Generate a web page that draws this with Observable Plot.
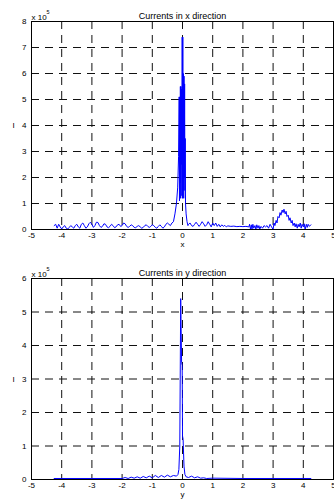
<!DOCTYPE html>
<html><head><meta charset="utf-8">
<script src="https://cdn.jsdelivr.net/npm/d3@7"></script>
<script src="https://cdn.jsdelivr.net/npm/@observablehq/plot@0.6"></script>
<style>body{margin:0;background:#fff;font-family:"Liberation Sans",Arial,sans-serif} svg{display:block}</style>
</head><body><div id="c"></div>
<script>
// Tick values
const xTicks = [-5,-4,-3,-2,-1,0,1,2,3,4,5];
const yTicksTop = [0,1,2,3,4,5,6,7,8];
const yTicksBottom = [0,1,2,3,4,5,6];

// Currents in x direction (units of 1e5)
const xPos = [-4.25,-4.2,-4.15,-4.1,-4.05,-4.0,-3.95,-3.9,-3.85,-3.8,-3.75,-3.7,-3.65,-3.6,-3.55,-3.5,-3.45,-3.4,-3.35,-3.3,-3.25,-3.2,-3.15,-3.1,-3.05,-3.0,-2.95,-2.9,-2.85,-2.8,-2.75,-2.7,-2.65,-2.6,-2.55,-2.5,-2.45,-2.4,-2.35,-2.3,-2.25,-2.2,-2.15,-2.1,-2.05,-2.0,-1.95,-1.9,-1.85,-1.8,-1.75,-1.7,-1.65,-1.6,-1.55,-1.5,-1.45,-1.4,-1.35,-1.3,-1.25,-1.2,-1.15,-1.1,-1.05,-1.0,-0.95,-0.9,-0.85,-0.8,-0.75,-0.7,-0.65,-0.6,-0.55,-0.5,-0.45,-0.4,-0.35,-0.3,-0.25,-0.2,-0.16,-0.13,-0.11,-0.1,-0.09,-0.08,-0.07,-0.06,-0.05,-0.04,-0.03,-0.02,-0.01,0.0,0.01,0.02,0.03,0.04,0.05,0.06,0.07,0.08,0.09,0.1,0.12,0.15,0.18,0.2,0.25,0.3,0.35,0.4,0.45,0.5,0.55,0.6,0.65,0.7,0.75,0.8,0.85,0.9,0.95,1.0,1.05,1.1,1.15,1.2,1.25,1.3,1.35,1.4,1.45,1.5,1.6,1.7,1.8,1.9,2.0,2.1,2.2,2.22,2.25,2.28,2.3,2.33,2.36,2.4,2.43,2.46,2.5,2.53,2.56,2.6,2.65,2.7,2.75,2.8,2.85,2.9,2.95,3.0,3.03,3.06,3.1,3.13,3.16,3.2,3.23,3.26,3.3,3.33,3.36,3.4,3.43,3.46,3.5,3.53,3.56,3.6,3.63,3.66,3.7,3.73,3.76,3.8,3.83,3.86,3.9,3.93,3.96,4.0,4.03,4.06,4.1,4.13,4.16,4.2,4.25];
const xCurrent = [0.15,0.2,0.05,0.2,0.1,0.02,0.1,0.15,0.05,0.02,0.08,0.15,0.1,0.05,0.15,0.2,0.1,0.05,0.2,0.25,0.15,0.05,0.1,0.22,0.28,0.2,0.08,0.15,0.28,0.27,0.15,0.08,0.12,0.22,0.2,0.1,0.07,0.12,0.2,0.15,0.07,0.1,0.18,0.2,0.12,0.15,0.25,0.22,0.12,0.08,0.12,0.18,0.15,0.08,0.07,0.12,0.15,0.1,0.05,0.08,0.15,0.18,0.12,0.08,0.12,0.18,0.15,0.08,0.05,0.12,0.18,0.12,0.05,0.1,0.2,0.25,0.2,0.15,0.25,0.3,0.6,1.0,1.6,2.8,5.1,1.1,5.1,1.8,5.5,1.2,5.5,2.5,5.4,1.3,7.4,1.2,7.4,1.5,6.0,1.2,5.9,2.0,5.6,1.5,3.5,1.0,0.6,0.3,0.15,0.2,0.25,0.15,0.12,0.2,0.28,0.2,0.12,0.2,0.3,0.22,0.12,0.18,0.3,0.2,0.1,0.25,0.15,0.25,0.12,0.2,0.1,0.18,0.12,0.16,0.1,0.14,0.12,0.13,0.11,0.12,0.11,0.12,0.1,0.2,0.02,0.18,0.0,0.2,0.05,0.15,0.0,0.18,0.05,0.15,0.02,0.12,0.05,0.15,0.1,0.15,0.05,0.2,0.1,0.0,0.25,0.15,0.35,0.25,0.5,0.45,0.65,0.55,0.75,0.65,0.78,0.6,0.7,0.5,0.55,0.35,0.45,0.25,0.35,0.15,0.25,0.1,0.22,0.05,0.2,0.1,0.25,0.05,0.2,0.1,0.22,0.0,0.2,0.08,0.2,0.12,0.18];

// Currents in y direction (units of 1e5)
const yPos = [-4.25,-3.0,-2.0,-1.9,-1.8,-1.7,-1.6,-1.5,-1.4,-1.3,-1.2,-1.1,-1.0,-0.9,-0.8,-0.7,-0.6,-0.5,-0.4,-0.3,-0.2,-0.15,-0.12,-0.09,-0.06,-0.05,-0.03,-0.01,0.0,0.02,0.05,0.08,0.12,0.2,0.3,0.4,0.5,0.6,0.7,0.8,1.0,2.0,4.25];
const yCurrent = [0.03,0.03,0.03,0.06,0.03,0.07,0.04,0.08,0.04,0.09,0.05,0.1,0.05,0.12,0.06,0.12,0.07,0.13,0.08,0.12,0.1,0.15,0.3,1.0,5.4,4.8,3.5,3.4,1.3,1.2,0.4,0.15,0.08,0.06,0.1,0.05,0.08,0.04,0.05,0.03,0.04,0.03,0.03];

const FONT = "Liberation Sans, Arial, sans-serif";

function panel({pos, vals, yTicks, title, xlabel, height, mt, mb}) {
  const data = pos.map((p, i) => ({p, v: vals[i]}));
  const yMax = yTicks[yTicks.length - 1];
  return Plot.plot({
    width: 334, height, marginLeft: 31, marginRight: 1, marginTop: mt, marginBottom: mb,
    style: {fontFamily: FONT, fontSize: "8px", background: "#fff"},
    x: {domain: [-5, 5]},
    y: {domain: [0, yMax]},
    marks: [
      Plot.ruleX(xTicks.slice(1, -1), {stroke: "#111", strokeDasharray: "8,6", strokeWidth: 1}),
      Plot.ruleY(yTicks.slice(1, -1), {stroke: "#111", strokeDasharray: "8,6", strokeWidth: 1}),
      Plot.lineY(data, {x: "p", y: "v", stroke: "#0000ff", strokeWidth: 1, clip: true}),
      Plot.frame({stroke: "#000"}),
      Plot.axisX({ticks: xTicks, tickSize: 0, tickPadding: 3, fontSize: 8, label: null, tickFormat: d => String(d)}),
      Plot.axisY({ticks: yTicks, tickSize: 0, tickPadding: 5, fontSize: 8, label: null, tickFormat: d => String(d)}),
      Plot.text([title], {frameAnchor: "top", dy: -9, fontSize: 9}),
      Plot.text([xlabel], {frameAnchor: "bottom", dy: 17, fontSize: 8}),
      Plot.text(["I"], {frameAnchor: "left", dx: -19, fontSize: 8}),
      Plot.text(["x 10"], {frameAnchor: "top-left", textAnchor: "start", dy: -7, fontSize: 8}),
      Plot.text(["5"], {frameAnchor: "top-left", textAnchor: "start", dx: 15, dy: -11, fontSize: 5.5})
    ]
  });
}

const c = document.getElementById("c");
c.append(panel({pos: xPos, vals: xCurrent, yTicks: yTicksTop, title: "Currents in x direction", xlabel: "x", height: 250, mt: 21, mb: 21}));
c.append(panel({pos: yPos, vals: yCurrent, yTicks: yTicksBottom, title: "Currents in y direction", xlabel: "y", height: 249, mt: 28, mb: 20}));
</script>
</body></html>
